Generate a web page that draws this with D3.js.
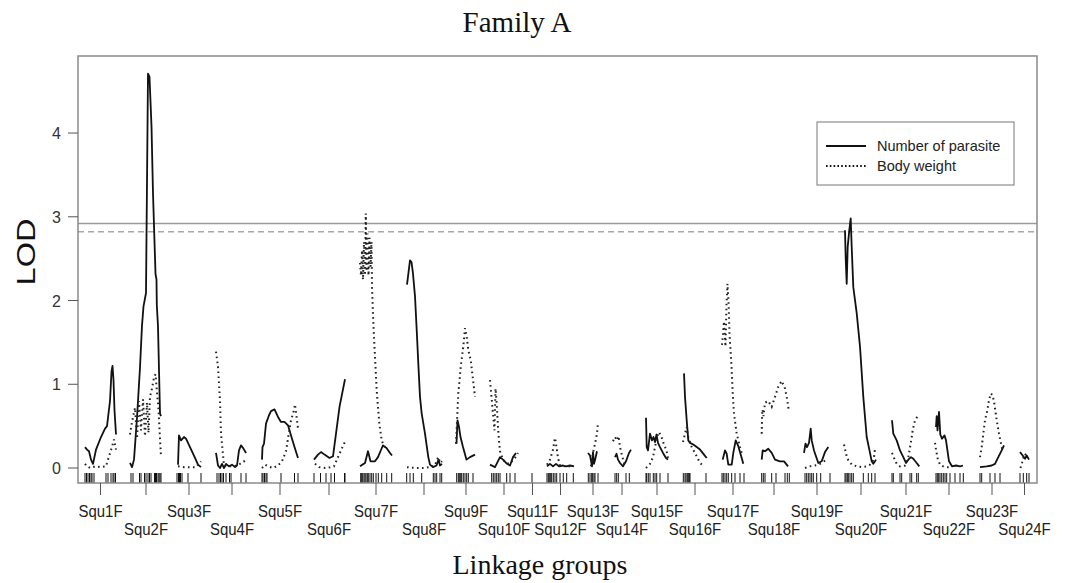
<!DOCTYPE html>
<html>
<head>
<meta charset="utf-8">
<script src="https://cdn.jsdelivr.net/npm/d3@7"></script>
<style>
  body { margin: 0; background: #fff; }
  svg { display: block; }
  .sans { font-family: "Liberation Sans", Arial, sans-serif; }
  .serif { font-family: "Liberation Serif", "Times New Roman", serif; }
</style>
</head>
<body>
<svg width="1066" height="583"></svg>
<script>
// linkage groups and their lengths (cM)
const chrNames = ["Squ1F","Squ2F","Squ3F","Squ4F","Squ5F","Squ6F","Squ7F","Squ8F","Squ9F","Squ10F","Squ11F","Squ12F",
  "Squ13F","Squ14F","Squ15F","Squ16F","Squ17F","Squ18F","Squ19F","Squ20F","Squ21F","Squ22F","Squ23F","Squ24F"];
const chrLengths = [31,32,26,32,36,34,32,36,20,28,1,27,10,20,22,26,22,32,26,34,28,30,28,9];
const chrGap = 14;

// marker positions (cM within each group)
const markers = [
  [0,1.5,3,4.5,6,7,9,21,23,26,28,29,30.5],
  [1,3,9.5,11,14.5,16,18,19.5,21,24.5,25.5,26.5,28,29,30,31],
  [1,2.5,3.5,4.5,6,12,25],
  [1,3,4.5,6,7.5,10,13.5,15,25,30],
  [0,1,2.5,4,5,19,32.5,36],
  [2,8.5,14,19,22.5,32.5,33],
  [0.7,1.7,2.7,4,5,6,7.3,8.3,10,11.7,13.3,16,18.3,21.7,26.7,31.7],
  [0.7,4,7.3,15.7,27.3,29,30.7,34,35.7],
  [0.7,2.3,3.3,4.7,5.7,7.3,9,10.7,12.3,17],
  [1.7,3.3,5,6.7,8.3,10,16.7,20,25],
  [0],
  [0,1.3,2.3,3.7,4.7,6.3,8,9.7,13,16.3,19.7,26.3],
  [0.3,2,3.7,4.7,6,7,10],
  [3,4.7,6.3,14,17.3],
  [0,0.7,2.3,4,7.3,9,10.7,14,22],
  [1.3,3,4,5.3,6.3,7.3,8,24],
  [0,1.3,3,4.7,6.3,9.7,13,18,22],
  [3.7,5.3,7,13.7,18,27,29.3,31.3],
  [1,2.7,4.3,6,7.7,9.3,12.7,16.7,26],
  [1,2,3.3,4.3,6,7.7,9.3,19.3,24.3,27.7,31],
  [0,1.3,8,9.7,18,19.7,24.7,26.3],
  [2,3.3,4.7,6,7.7,9.3,11,12.7,16,21,26,29.3],
  [2,3.7,12,17,22],
  [0,3.3,6.7,9]
];

// LOD profile: number of parasite, [cM, LOD] per group
const parasiteLod = [
  [[0,0.25],[2,0.22],[4,0.2],[6,0.1],[8,0.05],[11,0.22],[16,0.37],[20,0.47],[22,0.5],[25,0.8],[26.5,1.15],[27.5,1.22],[28.5,1.05],[29.5,0.69],[31,0.4]],
  [[0,0.06],[2,0.01],[4,0.1],[7,0.6],[10,1.2],[12,1.7],[13.5,1.93],[16,2.09],[18,4.71],[19.5,4.67],[21.5,4.08],[23,3.28],[25.5,2.32],[26.5,2.25],[26.8,1.95],[28,1.69],[30,0.65],[31,0.62]],
  [[2,0.04],[3,0.39],[5,0.33],[8,0.37],[10,0.35],[14,0.25],[19,0.12],[22,0.04],[25,0.01]],
  [[0,0.18],[2,0.03],[4,0.0],[6,0.05],[8,0.0],[10,0.05],[13,0.02],[16,0.04],[19,0.01],[21,0.03],[23,0.21],[25,0.27],[27,0.24],[29,0.2],[30,0.18]],
  [[0,0.1],[0.5,0.25],[2,0.29],[4,0.53],[7,0.63],[9,0.68],[12.5,0.7],[16,0.61],[19,0.55],[22.5,0.55],[26,0.51],[28.5,0.41],[32.5,0.25],[36,0.12]],
  [[2,0.1],[6,0.16],[9,0.19],[12.5,0.16],[17.5,0.12],[21,0.14],[24,0.41],[27.5,0.73],[33,1.06]],
  [[0,0.02],[5,0.06],[8,0.2],[10.5,0.08],[15,0.08],[18,0.13],[21.5,0.23],[23,0.27],[26.5,0.24],[30,0.18],[32,0.15]],
  [[1,2.19],[4,2.48],[5.5,2.46],[7,2.32],[9,2.05],[10.7,1.65],[12.3,1.25],[14,0.85],[15.7,0.65],[19,0.41],[22.3,0.13],[24,0.04],[27,0.01],[30.5,0.03],[32.5,0.1],[34,0.03],[36,0.05]],
  [[0.5,0.29],[1.5,0.57],[3,0.49],[4.5,0.37],[7,0.25],[10.5,0.1],[14,0.13],[19,0.16]],
  [[0,0.04],[5,0.01],[10,0.13],[13,0.1],[17,0.05],[20,0.03],[23,0.13],[26,0.18]],
  [],
  [[0,0.02],[3,0.05],[6,0.02],[9,0.05],[12,0.02],[16,0.03],[19,0.02],[23,0.03],[27,0.02]],
  [[0,0.18],[2,0.15],[4,0.02],[5,0.19],[6,0.05],[7.5,0.12],[9,0.2]],
  [[3,0.13],[4.5,0.17],[6,0.1],[8,0.06],[11,0.02],[14,0.08],[17,0.18],[19,0.22]],
  [[0,0.6],[0.7,0.25],[2,0.21],[4,0.41],[6,0.33],[7.5,0.37],[9,0.31],[10.5,0.4],[12,0.3],[14,0.25],[17,0.18],[20,0.12],[22,0.1]],
  [[2,1.13],[3,0.85],[4.7,0.57],[6.3,0.33],[8,0.3],[11.3,0.28],[14.7,0.25],[18,0.22],[22,0.16],[24.7,0.12]],
  [[0.7,0.1],[3,0.21],[4.7,0.17],[6.3,0.04],[9.7,0.04],[11.3,0.18],[13.7,0.33],[16.3,0.26],[19.7,0.12],[21.3,0.05]],
  [[3.7,0.1],[4.7,0.21],[7,0.2],[10.3,0.23],[13.7,0.18],[17,0.1],[22,0.08],[26,0.08],[28.7,0.04],[30,0.02]],
  [[0,0.18],[1.5,0.29],[3,0.25],[5,0.3],[6.7,0.47],[7.7,0.33],[10,0.21],[14.3,0.06],[17.7,0.08],[21,0.19],[24.3,0.25]],
  [[1,2.84],[1.7,2.5],[2.7,2.2],[3.7,2.64],[5.3,2.84],[6.7,2.98],[7.7,2.64],[9.3,2.16],[12.7,1.85],[16,1.45],[19.3,0.85],[22.7,0.37],[26,0.18],[27.7,0.08],[29.3,0.05],[31,0.08],[32,0.1]],
  [[0,0.57],[1.3,0.41],[4.7,0.33],[8,0.21],[11.3,0.13],[14,0.06],[16.3,0.1],[19,0.13],[21.3,0.11],[24.7,0.06],[27.3,0.02]],
  [[2,0.49],[2.7,0.62],[3.5,0.45],[5,0.67],[6.3,0.4],[8,0.35],[10.5,0.39],[12,0.33],[15,0.08],[18,0.02],[22,0.03],[26,0.02],[29,0.03]],
  [[2,0.01],[8.7,0.02],[13.7,0.03],[17,0.05],[20.3,0.13],[23.7,0.21],[26,0.27]],
  [[0,0.19],[2.7,0.15],[5,0.11],[6.7,0.15],[9,0.1]]
];

// LOD profile: body weight
const weightLod = [
  [[0,0.05],[2,0.02],[5,0],[10,0.02],[15,0.01],[21,0.02],[24,0.14],[27,0.25],[29,0.34],[31,0.22]],
  [[0,0.4],[2,0.55],[5,0.72],[7,0.35],[9,0.8],[11,0.45],[13,0.82],[15,0.38],[17,0.78],[18.5,0.42],[20,0.85],[22,0.95],[24,1.08],[25.5,1.12],[27,0.9],[28.5,0.7],[30,0.35],[31,0.14]],
  [[2,0.02],[8,0.01],[14,0.01],[20,0.01],[25,0.08]],
  [[0,1.39],[2,1.21],[4,0.8],[5,0.41],[7,0.16],[8,0.03],[12,0.02],[18,0.02],[24,0.05],[28,0.08],[30,0.06]],
  [[0,0.0],[3,0.04],[6,0.02],[11,0.0],[16,0.03],[20,0.08],[24,0.2],[26.5,0.39],[29,0.57],[31.5,0.67],[33,0.76],[34.5,0.62],[36,0.47]],
  [[3,0.05],[7,0.01],[13,0.0],[18,0.01],[22,0.02],[26,0.13],[29,0.21],[32,0.29],[34,0.33]],
  [[0,2.45],[1,2.3],[2,2.6],[3,2.25],[4,2.7],[5,2.3],[5.8,3.04],[6.5,2.35],[7.5,2.8],[8.5,2.3],[9.5,2.75],[10.5,2.4],[11.5,2.7],[12,2.15],[13.3,1.73],[15,1.33],[16.7,0.93],[19.3,0.53],[21.7,0.33],[23.3,0.28],[25,0.25]],
  [[1,0.01],[9,0.0],[17,0.0],[24,0.01],[29,0.03],[31,0.1],[32.5,0.13],[34,0.06],[36,0.08]],
  [[0,0.29],[2.3,0.89],[4.7,1.21],[7.3,1.45],[9,1.67],[10.7,1.57],[12.3,1.41],[14.7,1.29],[16.7,1.09],[19,0.85]],
  [[0,1.05],[1.5,0.85],[3,0.65],[4.5,0.45],[5.5,0.95],[6.5,0.8],[7.5,0.6],[8.5,0.4],[10,0.2],[13,0.1],[16,0.06],[19,0.05],[22,0.08],[25,0.12],[28,0.18]],
  [],
  [[0,0.04],[3,0.1],[6,0.22],[8,0.36],[9.5,0.25],[11,0.12],[13,0.03],[18,0.02],[24,0.02]],
  [[3,0.02],[5,0.18],[7,0.29],[9,0.41],[10,0.55]],
  [[1,0.32],[3,0.37],[5,0.33],[6.5,0.38],[8,0.25],[10,0.15],[12,0.06],[14,0.02]],
  [[0,0.0],[4,0.05],[7,0.13],[9,0.25],[11,0.37],[13,0.43],[15.5,0.37],[18,0.28],[20.5,0.21],[22,0.12]],
  [[1,0.31],[3,0.41],[4.7,0.49],[6,0.38],[9.7,0.25],[13,0.18],[16.3,0.1],[19.7,0.04]],
  [[0,1.47],[1,1.6],[2,1.75],[3.5,1.45],[4.5,1.95],[5.5,2.2],[6.5,2.0],[7.5,1.6],[9.5,1.21],[10.7,0.89],[12,0.65],[14.7,0.41],[18,0.25],[19.7,0.18]],
  [[3.7,0.41],[4,0.58],[4.5,0.7],[5.5,0.62],[7,0.78],[10.3,0.8],[13.7,0.73],[17,0.85],[20.3,0.97],[23.7,1.04],[27,0.95],[29.3,0.81],[30.7,0.69]],
  [[1,0.0],[6,0.02],[11,0.03],[16,0.05],[22.7,0.1]],
  [[0,0.28],[1.5,0.2],[3,0.12],[5,0.08],[8,0.04],[12.7,0.02],[17.7,0.01],[22.7,0.02],[26,0.04],[28.7,0.08],[30,0.13],[31,0.23]],
  [[0,0.18],[2,0.12],[4.7,0.05],[8,0.02],[13,0.03],[16.3,0.13],[18.7,0.29],[20.7,0.45],[23,0.57],[26.3,0.63]],
  [[1,0.3],[2,0.22],[3.5,0.12],[6,0.04],[9,0.02],[13,0.01],[18,0.01]],
  [[2,0.13],[3.7,0.25],[5.3,0.41],[7,0.57],[9.3,0.69],[11,0.81],[12.7,0.89],[14.7,0.87],[16.3,0.77],[18.7,0.57],[21,0.41],[23.7,0.25],[25,0.2]],
  [[0.5,0.0],[2,0.06],[3.3,0.12],[5,0.17],[7,0.13]]
];

// significance thresholds
const thresholdParasite = 2.92;
const thresholdWeight = 2.82;
const yTicks = [0, 1, 2, 3, 4];
const legendLabels = ["Number of parasite", "Body weight"];

const svg = d3.select("svg");
const margin = { top: 56, right: 29, bottom: 100, left: 78 };
const width = +svg.attr("width") - margin.left - margin.right;
const height = +svg.attr("height") - margin.top - margin.bottom;
const g = svg.append("g").attr("transform", `translate(${margin.left},${margin.top})`);

// cumulative start of each group
const starts = [];
let acc = 0;
chrLengths.forEach((len, i) => { starts.push(acc); acc += len + chrGap; });
const total = acc - chrGap;

const x = d3.scaleLinear().domain([-7, total + 8]).range([0, width]);
const y = d3.scaleLinear().domain([-0.179, 4.92]).range([height, 0]);

// threshold lines
g.append("line")
  .attr("x1", 0).attr("x2", width)
  .attr("y1", y(thresholdParasite)).attr("y2", y(thresholdParasite))
  .attr("stroke", "#9a9a9a").attr("stroke-width", 1.5);
g.append("line")
  .attr("x1", 0).attr("x2", width)
  .attr("y1", y(thresholdWeight)).attr("y2", y(thresholdWeight))
  .attr("stroke", "#a8a8a8").attr("stroke-width", 1.5)
  .attr("stroke-dasharray", "6,4");

const line = d3.line().x(d => d[0]).y(d => d[1]);

// curves per group
chrNames.forEach((name, i) => {
  const toPx = p => [x(starts[i] + p[0]), y(p[1])];
  if (parasiteLod[i].length) {
    g.append("path")
      .attr("d", line(parasiteLod[i].map(toPx)))
      .attr("fill", "none").attr("stroke", "#111").attr("stroke-width", 1.8)
      .attr("stroke-linejoin", "round");
  }
  if (weightLod[i].length) {
    g.append("path")
      .attr("d", line(weightLod[i].map(toPx)))
      .attr("fill", "none").attr("stroke", "#222").attr("stroke-width", 2)
      .attr("stroke-dasharray", "1.6,3.4");
  }
  // marker rug
  g.selectAll(null)
    .data(markers[i])
    .enter()
    .append("line")
    .attr("x1", d => x(starts[i] + d)).attr("x2", d => x(starts[i] + d))
    .attr("y1", height - 10).attr("y2", height)
    .attr("stroke", "#111").attr("stroke-width", 1);
});

// plot frame
g.append("rect")
  .attr("width", width).attr("height", height)
  .attr("fill", "none").attr("stroke", "#8a8a8a").attr("stroke-width", 1.5);

// y axis
g.selectAll(".ytick")
  .data(yTicks)
  .enter()
  .append("line")
  .attr("x1", -10).attr("x2", 0)
  .attr("y1", d => y(d)).attr("y2", d => y(d))
  .attr("stroke", "#555");
g.selectAll(".ylab")
  .data(yTicks)
  .enter()
  .append("text")
  .attr("class", "sans")
  .attr("x", -17).attr("y", d => y(d) + 6)
  .attr("text-anchor", "end")
  .attr("font-size", 16)
  .attr("fill", "#333")
  .text(d => d);

// x axis: group ticks and alternating labels
chrNames.forEach((name, i) => {
  const cx = x(starts[i] + chrLengths[i] / 2);
  g.append("line")
    .attr("x1", cx).attr("x2", cx)
    .attr("y1", height).attr("y2", height + 12)
    .attr("stroke", "#555");
  const ly = height + (i % 2 === 0 ? 34 : 52);
  g.append("text")
    .attr("class", "sans")
    .attr("transform", `translate(${cx},${ly}) scale(0.88,1)`)
    .attr("text-anchor", "middle")
    .attr("font-size", 17)
    .attr("fill", "#222")
    .text(name);
});

// axis titles
svg.append("text")
  .attr("class", "sans")
  .attr("transform", `translate(35,252) rotate(-90) scale(1.25,1)`)
  .attr("text-anchor", "middle")
  .attr("font-size", 26)
  .attr("fill", "#111")
  .text("LOD");

svg.append("text")
  .attr("class", "serif")
  .attr("x", 540).attr("y", 574)
  .attr("text-anchor", "middle")
  .attr("font-size", 28)
  .attr("fill", "#111")
  .text("Linkage groups");

svg.append("text")
  .attr("class", "serif")
  .attr("x", 517).attr("y", 32)
  .attr("text-anchor", "middle")
  .attr("font-size", 29)
  .attr("fill", "#111")
  .text("Family A");

// legend
const lg = svg.append("g").attr("transform", "translate(817,122)");
lg.append("rect")
  .attr("width", 197).attr("height", 63)
  .attr("fill", "#fff").attr("stroke", "#777").attr("stroke-width", 1);
legendLabels.forEach((lab, i) => {
  const ly = 24 + i * 20;
  lg.append("line")
    .attr("x1", 9).attr("x2", 49).attr("y1", ly).attr("y2", ly)
    .attr("stroke", "#111").attr("stroke-width", i === 0 ? 1.8 : 2)
    .attr("stroke-dasharray", i === 0 ? null : "1.6,2.2");
  lg.append("text")
    .attr("class", "sans")
    .attr("x", 60).attr("y", ly + 5)
    .attr("font-size", 14.5)
    .attr("fill", "#222")
    .text(lab);
});
</script>
</body>
</html>
